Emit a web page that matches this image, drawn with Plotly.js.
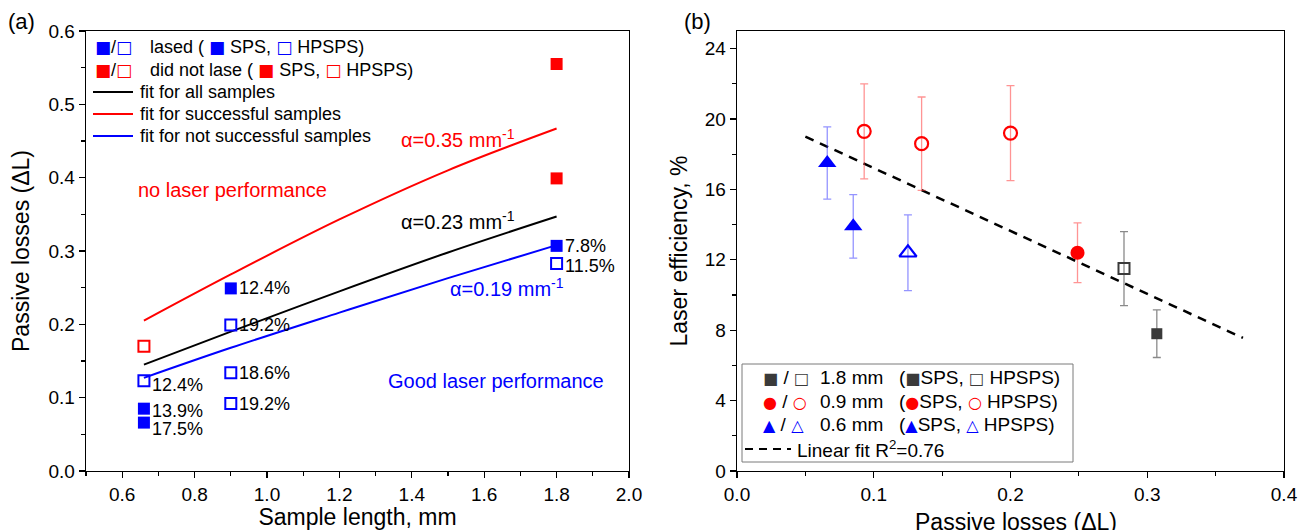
<!DOCTYPE html>
<html><head><meta charset="utf-8">
<script src="https://cdn.plot.ly/plotly-3.0.1.min.js"></script>
<style>html,body{margin:0;padding:0;background:#fff}#chart{width:1298px;height:530px}</style>
</head><body><div id="chart"></div>
<script>
// ---- Panel (a): passive losses versus sample length ----
const lasedSpsLength = [0.66, 0.66, 0.9, 1.8];
const lasedSpsLoss = [0.085, 0.066, 0.249, 0.307];
const lasedSpsEff = [13.9, 17.5, 12.4, 7.8];

const lasedHpspsLength = [0.66, 0.9, 0.9, 0.9, 1.8];
const lasedHpspsLoss = [0.123, 0.199, 0.134, 0.092, 0.283];
const lasedHpspsEff = [12.4, 19.2, 18.6, 19.2, 11.5];

const failSpsLength = [1.8, 1.8];
const failSpsLoss = [0.555, 0.399];
const failHpspsLength = [0.66];
const failHpspsLoss = [0.170];

const fitLength = [0.66, 0.9, 1.2, 1.5, 1.8];
const fitAllLoss = [0.145, 0.190, 0.245, 0.298, 0.347];
const fitSuccessLoss = [0.205, 0.268, 0.343, 0.410, 0.467];
const fitFailLoss = [0.127, 0.168, 0.216, 0.263, 0.308];

// ---- Panel (b): laser efficiency versus passive losses ----
const mm18SpsLoss = [0.307], mm18SpsEff = [7.8], mm18SpsErr = [1.35];
const mm18HpspsLoss = [0.283], mm18HpspsEff = [11.5], mm18HpspsErr = [2.1];
const mm09SpsLoss = [0.249], mm09SpsEff = [12.4], mm09SpsErr = [1.7];
const mm09HpspsLoss = [0.093, 0.135, 0.200], mm09HpspsEff = [19.3, 18.6, 19.2], mm09HpspsErr = [2.7, 2.65, 2.7];
const mm06SpsLoss = [0.066, 0.085], mm06SpsEff = [17.5, 13.9], mm06SpsErr = [2.05, 1.8];
const mm06HpspsLoss = [0.125], mm06HpspsEff = [12.4], mm06HpspsErr = [2.15];

const linFitLoss = [0.05, 0.37];
const linFitEff = [19.0, 7.56];

// ---- geometry helpers (pixel -> paper) ----
const W = 1298, H = 530;
const M = {l: 86, r: 14, t: 31, b: 59};
const PW = W - M.l - M.r, PH = H - M.t - M.b;
const px = x => (x - M.l) / PW;
const py = y => (H - M.b - y) / PH;

const FONT = 'Liberation Sans, Arial, sans-serif';
const BLUE = '#0000ff', RED = '#ff0000', DARK = '#3a3a3a';

const traces = [];
const sq = (color, open, size) => ({
  symbol: open ? 'square-open' : 'square', size: size, color: color,
  line: {color: color, width: open ? 2 : 0}
});

// panel (a) fits
const fitLine = color => ({color: color, width: 2, shape: 'spline', smoothing: 1});
traces.push({x: fitLength, y: fitSuccessLoss, mode: 'lines', line: fitLine(RED), xaxis: 'x', yaxis: 'y'});
traces.push({x: fitLength, y: fitAllLoss, mode: 'lines', line: fitLine('#000'), xaxis: 'x', yaxis: 'y'});
traces.push({x: fitLength, y: fitFailLoss, mode: 'lines', line: fitLine(BLUE), xaxis: 'x', yaxis: 'y'});
// panel (a) samples
traces.push({x: lasedSpsLength, y: lasedSpsLoss, mode: 'markers', marker: sq(BLUE, false, 12), xaxis: 'x', yaxis: 'y'});
traces.push({x: lasedHpspsLength, y: lasedHpspsLoss, mode: 'markers', marker: sq(BLUE, true, 11), xaxis: 'x', yaxis: 'y'});
traces.push({x: failSpsLength, y: failSpsLoss, mode: 'markers', marker: sq(RED, false, 12), xaxis: 'x', yaxis: 'y'});
traces.push({x: failHpspsLength, y: failHpspsLoss, mode: 'markers', marker: sq(RED, true, 11), xaxis: 'x', yaxis: 'y'});

// panel (b)
const errBar = (arr, color) => ({type: 'data', array: arr, visible: true, color: color, thickness: 1.3, width: 4});
traces.push({x: linFitLoss, y: linFitEff, mode: 'lines', line: {color: '#000', width: 2.5, dash: '9px,7px'}, xaxis: 'x2', yaxis: 'y2'});
traces.push({x: mm06SpsLoss, y: mm06SpsEff, error_y: errBar(mm06SpsErr, 'rgba(60,60,255,0.55)'), mode: 'markers',
  marker: {symbol: 'triangle-up', size: 16, color: BLUE}, xaxis: 'x2', yaxis: 'y2'});
traces.push({x: mm06HpspsLoss, y: mm06HpspsEff, error_y: errBar(mm06HpspsErr, 'rgba(60,60,255,0.55)'), mode: 'markers',
  marker: {symbol: 'triangle-up-open', size: 15, color: BLUE, line: {width: 2.2, color: BLUE}}, xaxis: 'x2', yaxis: 'y2'});
traces.push({x: mm09HpspsLoss, y: mm09HpspsEff, error_y: errBar(mm09HpspsErr, 'rgba(255,60,60,0.55)'), mode: 'markers',
  marker: {symbol: 'circle-open', size: 13, color: RED, line: {width: 2.2, color: RED}}, xaxis: 'x2', yaxis: 'y2'});
traces.push({x: mm09SpsLoss, y: mm09SpsEff, error_y: errBar(mm09SpsErr, 'rgba(255,60,60,0.55)'), mode: 'markers',
  marker: {symbol: 'circle', size: 14, color: RED}, xaxis: 'x2', yaxis: 'y2'});
traces.push({x: mm18HpspsLoss, y: mm18HpspsEff, error_y: errBar(mm18HpspsErr, 'rgba(60,60,60,0.6)'), mode: 'markers',
  marker: {symbol: 'square-open', size: 11, color: DARK, line: {width: 2, color: DARK}}, xaxis: 'x2', yaxis: 'y2'});
traces.push({x: mm18SpsLoss, y: mm18SpsEff, error_y: errBar(mm18SpsErr, 'rgba(60,60,60,0.6)'), mode: 'markers',
  marker: {symbol: 'square', size: 11, color: DARK}, xaxis: 'x2', yaxis: 'y2'});

const ann = [];
const txt = (x, y, text, size, color) => ({xref: 'paper', yref: 'paper', x: px(x), y: py(y), text: text,
  showarrow: false, xanchor: 'left', yanchor: 'middle', font: {family: FONT, size: size || 18, color: color || '#000'}});

// panel labels
ann.push(txt(6, 21, '(a)', 22));
ann.push(txt(682, 21, '(b)', 22));

// x title of panel (b), set close to the lower edge
ann.push(Object.assign(txt(1016, 507, 'Passive losses (ΔL)', 23), {xanchor: 'center', yanchor: 'top'}));

// efficiency labels next to the lased samples
lasedSpsLength.forEach((x, i) => ann.push({xref: 'x', yref: 'y', x: x, y: lasedSpsLoss[i], text: lasedSpsEff[i] + '%',
  showarrow: false, xanchor: 'left', yanchor: 'middle', xshift: 6, yshift: (x < 0.7 ? (i === 1 ? -6 : -2) : 0),
  font: {family: FONT, size: 18, color: '#000'}}));
lasedHpspsLength.forEach((x, i) => ann.push({xref: 'x', yref: 'y', x: x, y: lasedHpspsLoss[i], text: lasedHpspsEff[i] + '%',
  showarrow: false, xanchor: 'left', yanchor: 'middle', xshift: 6, yshift: (x < 0.7 ? -4 : (x > 1.7 ? -3 : 0)),
  font: {family: FONT, size: 18, color: '#000'}}));

// region / fit notes in panel (a)
ann.push(txt(399, 138, 'α=0.35 mm<sup>-1</sup>', 20, RED));
ann.push(txt(136, 190, 'no laser performance', 20, RED));
ann.push(txt(399, 220, 'α=0.23 mm<sup>-1</sup>', 20, '#000'));
ann.push(txt(448, 287, 'α=0.19 mm<sup>-1</sup>', 20, BLUE));
ann.push(txt(386, 381, 'Good laser performance', 20, BLUE));

// legend symbols are typeset with DejaVu Sans so filled and open shapes share one size
const g = (col, s, size) => '<span style="color:' + col + ';font-family:DejaVu Sans;font-size:' + size + 'px">' + s + '</span>';

// legend of panel (a)
ann.push(txt(93, 47, g(BLUE, '■', 17) + '/' + g(BLUE, '□', 17)));
ann.push(txt(148, 47, 'lased ( ' + g(BLUE, '■', 17) + ' SPS, ' + g(BLUE, '□', 17) + ' HPSPS)'));
ann.push(txt(93, 70, g(RED, '■', 17) + '/' + g(RED, '□', 17)));
ann.push(txt(148, 70, 'did not lase ( ' + g(RED, '■', 17) + ' SPS, ' + g(RED, '□', 17) + ' HPSPS)'));
ann.push(txt(138, 92, 'fit for all samples'));
ann.push(txt(138, 114, 'fit for successful samples'));
ann.push(txt(138, 136, 'fit for not successful samples'));

// legend of panel (b)
const rows = [
  {y: 377, col: DARK, a: '■', b: '□', label: '1.8 mm', sz: 16},
  {y: 401, col: RED, a: '●', b: '○', label: '0.9 mm', sz: 16},
  {y: 424, col: BLUE, a: '▲', b: '△', label: '0.6 mm', sz: 16}
];
rows.forEach(r => {
  ann.push(txt(761, r.y, g(r.col, r.a, r.sz) + ' / ' + g(r.col, r.b, r.sz), 19));
  ann.push(txt(818, r.y, r.label, 19));
  ann.push(txt(897, r.y, '(' + g(r.col, r.a, r.sz) + 'SPS, ' + g(r.col, r.b, r.sz) + ' HPSPS)', 19));
});
ann.push(txt(795, 449, 'Linear fit R<sup>2</sup>=0.76', 19));

const shapes = [];
const seg = (x0, x1, y, color, dash) => ({type: 'line', xref: 'paper', yref: 'paper', x0: px(x0), x1: px(x1), y0: py(y), y1: py(y),
  line: {color: color, width: 2, dash: dash || 'solid'}});
shapes.push(seg(93, 133, 92, '#000'));
shapes.push(seg(93, 133, 114, RED));
shapes.push(seg(93, 133, 136, BLUE));
shapes.push(seg(745, 791, 449, '#000', '8px,6px'));
shapes.push({type: 'rect', xref: 'paper', yref: 'paper', x0: px(742), x1: px(1073), y0: py(462), y1: py(364),
  line: {color: '#7a7a7a', width: 1}, fillcolor: 'rgba(0,0,0,0)'});

const axisBase = {
  showline: true, linecolor: '#000', linewidth: 1.3, mirror: true, ticks: 'outside', ticklen: 6, tickwidth: 1.3,
  tickcolor: '#000', showgrid: false, zeroline: false, tickfont: {family: FONT, size: 19, color: '#000'},
  minor: {ticks: 'outside', ticklen: 3.5, tickwidth: 1.1, tickcolor: '#000', showgrid: false}
};
const titleFont = {family: FONT, size: 23, color: '#000'};

const layout = {
  width: W, height: H, margin: M, showlegend: false, paper_bgcolor: '#fff', plot_bgcolor: '#fff',
  xaxis: Object.assign({}, axisBase, {domain: [0, px(629)], range: [0.5, 2.0], dtick: 0.2, tick0: 0, tickformat: '.1f',
    minor: Object.assign({}, axisBase.minor, {dtick: 0.1}),
    title: {text: 'Sample length, mm', font: titleFont, standoff: 3}}),
  yaxis: Object.assign({}, axisBase, {domain: [0, 1], range: [0, 0.6], dtick: 0.1, tickformat: '.1f',
    minor: Object.assign({}, axisBase.minor, {dtick: 0.05}),
    title: {text: 'Passive losses (ΔL)', font: titleFont, standoff: 12}}),
  xaxis2: Object.assign({}, axisBase, {domain: [px(737), 1], range: [0, 0.4], dtick: 0.1, tickformat: '.1f', anchor: 'y2',
    minor: Object.assign({}, axisBase.minor, {dtick: 0.05})}),
  yaxis2: Object.assign({}, axisBase, {domain: [0, 1], range: [0, 25], dtick: 4, tick0: 0, anchor: 'x2',
    minor: Object.assign({}, axisBase.minor, {dtick: 2}),
    title: {text: 'Laser efficiency, %', font: titleFont, standoff: 10}}),
  annotations: ann, shapes: shapes
};

Plotly.newPlot('chart', traces, layout, {displayModeBar: false, staticPlot: true});
</script>
</body></html>
